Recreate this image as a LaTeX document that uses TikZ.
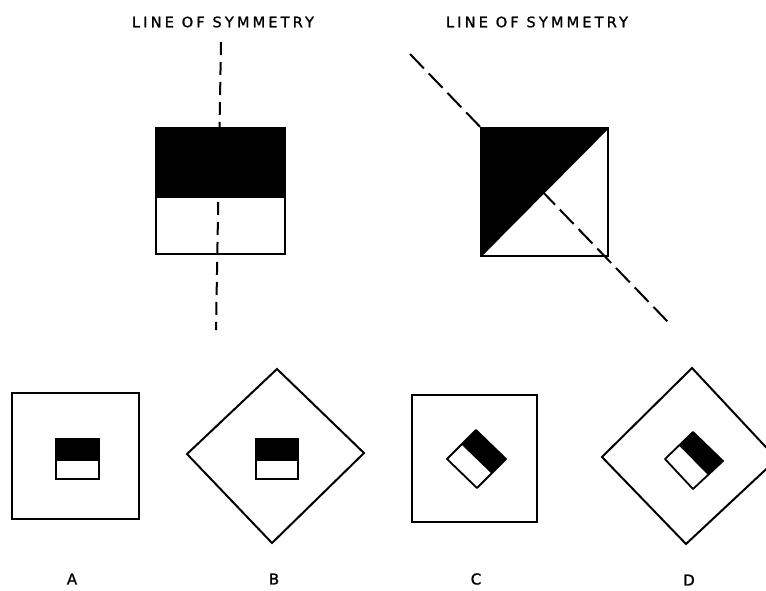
\documentclass[tikz,border=0pt]{standalone}
\usepackage{fontspec}
\newfontfamily\labfont[LetterSpace=22,FakeBold=1.2]{DejaVu Sans}
\newfontfamily\letfont[FakeBold=1.2]{DejaVu Sans}
\begin{document}
\begin{tikzpicture}[x=1pt,y=-1pt,
  outline/.style={draw=black,line width=2pt,line join=miter},
  blackfill/.style={fill=black},
  symline/.style={draw=black,line width=2pt},
  caption/.style={font=\fontsize{14.5}{16}\selectfont\labfont,inner sep=0pt,anchor=center},
  letter/.style={font=\fontsize{15}{16}\selectfont\letfont,inner sep=0pt,anchor=center}]
\useasboundingbox (0,0) rectangle (766,590);

% ---------- top left: horizontal split square ----------
\fill[blackfill] (156,128) rectangle (285,197);
\coordinate (v1) at (221,42);
\coordinate (v2) at (216,330);
\draw[symline,dash pattern=on 13pt off 7pt] (v1) -- (v2);
\draw[outline] (156,128) rectangle (285,254);
\draw[line width=1.6pt] (156,197) -- (285,197);
\node[caption] (lab1) at (223,22) {LINE OF SYMMETRY};

% ---------- top right: diagonal split square ----------
\fill[blackfill] (481,128) -- (608,128) -- (481,256) -- cycle;
\draw[line width=1.6pt] (481,256) -- (608,128);
\coordinate (d1) at (410,54);
\coordinate (d2) at (668,322);
\draw[symline,dash pattern=on 20pt off 7pt] (d1) -- (d2);
\draw[outline] (481,128) rectangle (608,256);
\node[caption] (lab2) at (537,22) {LINE OF SYMMETRY};

% ---------- A ----------
\draw[outline] (12,393) rectangle (139,519);
\fill[blackfill] (56,439) rectangle (99,461);
\draw[outline,line width=1.8pt] (56,439) rectangle (99,479);
\node[letter] (la) at (72,579) {A};

% ---------- B ----------
\draw[outline] (187,454) -- (277,369) -- (364,453) -- (272,543) -- cycle;
\fill[blackfill] (256,439) rectangle (298,461);
\draw[outline,line width=1.8pt] (256,439) rectangle (298,479);
\node[letter] (lb) at (274,579) {B};

% ---------- C ----------
\draw[outline] (412,395) rectangle (537,522);
\fill[blackfill] (461.5,444.5) -- (476,430) -- (506,459) -- (491.5,473.5) -- cycle;
\draw[outline,line width=1.8pt,line join=round] (447,459) -- (476,430) -- (506,459) -- (477,488) -- cycle;
\node[letter] (lc) at (476,579) {C};

% ---------- D ----------
\draw[outline] (602,457) -- (692,368) -- (777,459) -- (686,544) -- cycle;
\fill[blackfill] (679,445.5) -- (693,432) -- (723,461) -- (708,475) -- cycle;
\draw[outline,line width=1.8pt,line join=round] (665,459) -- (693,432) -- (723,461) -- (693,489) -- cycle;
\node[letter] (ld) at (689,580) {D};
\end{tikzpicture}
\end{document}
